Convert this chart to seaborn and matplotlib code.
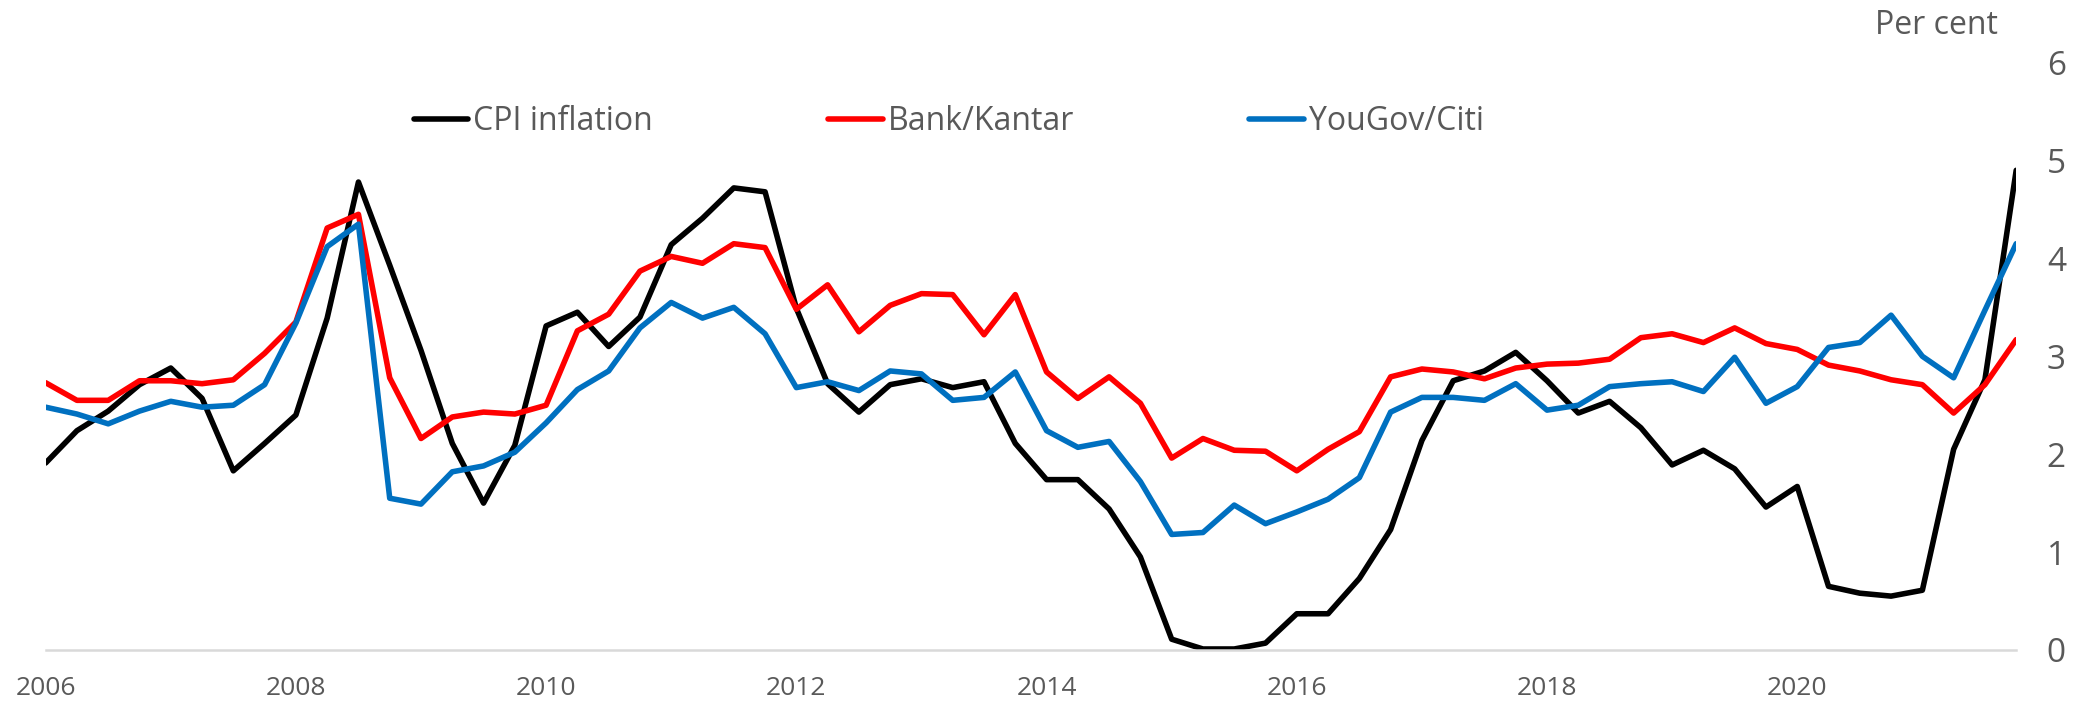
import pandas as pd
import numpy as np
import matplotlib
matplotlib.use("Agg")
import matplotlib.pyplot as plt
import seaborn as sns

# quarterly data, 2006 Q1 - 2021 Q4
quarters = pd.period_range("2006Q1", "2021Q4", freq="Q")
cpi = [1.91, 2.24, 2.44, 2.71, 2.88, 2.57, 1.83, 2.11, 2.40, 3.39, 4.78, 3.93, 3.06, 2.11, 1.50, 2.09,
       3.31, 3.45, 3.10, 3.40, 4.14, 4.41, 4.72, 4.68, 3.49, 2.72, 2.43, 2.71, 2.77, 2.68, 2.74, 2.11,
       1.74, 1.74, 1.44, 0.95, 0.11, 0.01, 0.01, 0.07, 0.37, 0.37, 0.73, 1.23, 2.14, 2.75, 2.85, 3.04,
       2.75, 2.42, 2.54, 2.27, 1.89, 2.04, 1.85, 1.46, 1.67, 0.65, 0.58, 0.55, 0.61, 2.05, 2.76, 4.90]
kantar = [2.73, 2.55, 2.55, 2.75, 2.75, 2.72, 2.76, 3.03, 3.35, 4.31, 4.45, 2.78, 2.16, 2.38, 2.43, 2.41,
          2.50, 3.26, 3.43, 3.87, 4.02, 3.95, 4.15, 4.11, 3.48, 3.73, 3.25, 3.52, 3.64, 3.63, 3.22, 3.63,
          2.84, 2.57, 2.79, 2.52, 1.96, 2.16, 2.04, 2.03, 1.83, 2.05, 2.23, 2.79, 2.87, 2.84, 2.77, 2.88,
          2.92, 2.93, 2.97, 3.19, 3.23, 3.14, 3.29, 3.13, 3.07, 2.91, 2.85, 2.76, 2.71, 2.42, 2.71, 3.17]
yougov = [2.48, 2.41, 2.31, 2.44, 2.54, 2.48, 2.50, 2.71, 3.34, 4.12, 4.35, 1.55, 1.49, 1.82, 1.88, 2.02,
          2.32, 2.66, 2.85, 3.29, 3.55, 3.39, 3.50, 3.23, 2.68, 2.74, 2.65, 2.85, 2.82, 2.55, 2.58, 2.84,
          2.24, 2.07, 2.13, 1.72, 1.18, 1.20, 1.48, 1.29, 1.41, 1.54, 1.76, 2.43, 2.58, 2.58, 2.55, 2.72,
          2.45, 2.50, 2.69, 2.72, 2.74, 2.64, 2.99, 2.52, 2.69, 3.09, 3.14, 3.42, 3.00, 2.78, 3.47, 4.15]
series_names = ["CPI inflation", "Bank/Kantar", "YouGov/Citi"]
colors = ["#000000", "#FF0000", "#0070C0"]
year_ticks = list(range(2006, 2021, 2))
y_ticks = [0, 1, 2, 3, 4, 5, 6]

t = quarters.year + (quarters.quarter - 1) / 4
df = pd.DataFrame({"t": t, "CPI inflation": cpi, "Bank/Kantar": kantar, "YouGov/Citi": yougov})
long = df.melt(id_vars="t", var_name="series", value_name="value")

sns.set_style("white")
plt.rcParams["font.family"] = ["Open Sans", "DejaVu Sans"]
grey = "#595959"

fig = plt.figure(figsize=(20.85, 7.01), dpi=100)
ax = fig.add_axes([0.0219, 0.0728, 0.967 - 0.0219, 0.9107 - 0.0728])
sns.lineplot(data=long, x="t", y="value", hue="series", hue_order=series_names,
             palette=colors, linewidth=4, ax=ax, legend=False)

ax.set_xlim(2006, 2021.75)
ax.set_ylim(0, 6)
ax.set_xticks(year_ticks)
ax.set_xticklabels([str(y) for y in year_ticks])
ax.set_yticks(y_ticks)
ax.yaxis.tick_right()
ax.set_xlabel("")
ax.set_ylabel("")
for s in ["top", "left", "right"]:
    ax.spines[s].set_visible(False)
ax.spines["bottom"].set_color("#d9d9d9")
ax.spines["bottom"].set_linewidth(1.8)
ax.tick_params(axis="x", direction="out", length=6.5, width=1.8, color="#d9d9d9",
               labelsize=19, labelcolor=grey, pad=12)
ax.tick_params(axis="y", length=0, labelsize=24, labelcolor=grey, pad=22)

fig.text(0.958, 0.963, "Per cent", ha="right", va="center", fontsize=23, color=grey)

handles = [plt.Line2D([], [], color=c, linewidth=4, solid_capstyle="round") for c in colors]
fig.legend(handles, series_names, loc="center", bbox_to_anchor=(0.455, 0.826), ncol=3,
           frameon=False, fontsize=23, handlelength=1.7, handletextpad=0.15,
           columnspacing=5.5, labelcolor=grey)

fig.savefig("out.png", dpi=100)
